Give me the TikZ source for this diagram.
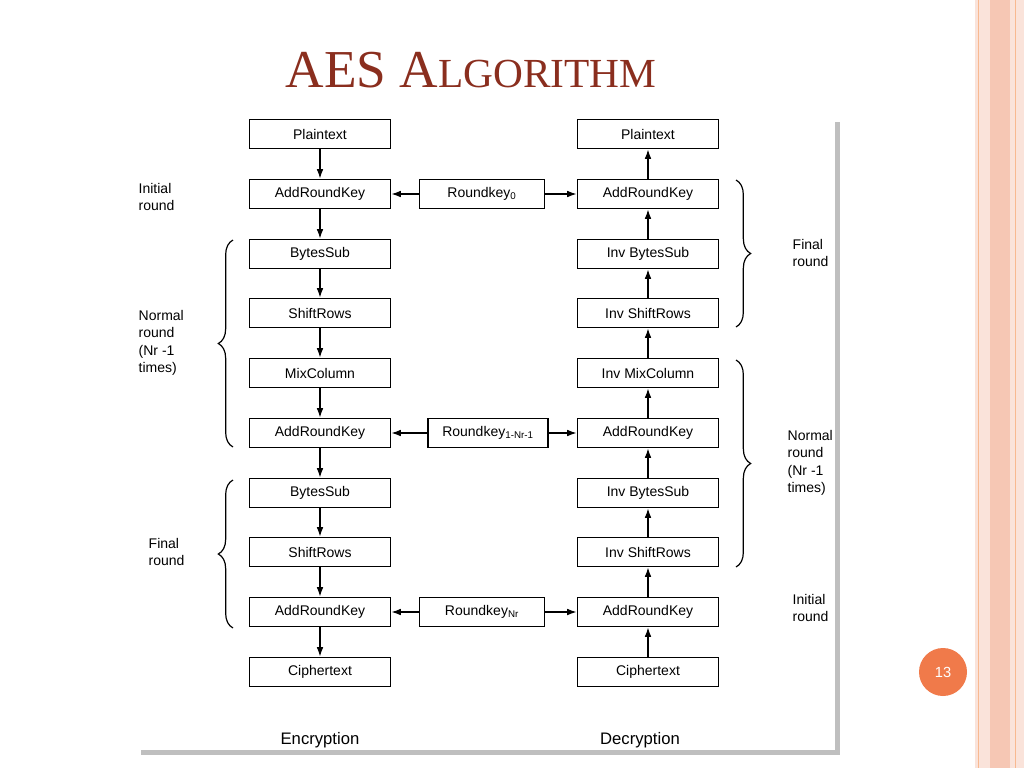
\documentclass[tikz,border=0pt]{standalone}
\usepackage{fontspec}
\setmainfont{Liberation Sans}
\newfontfamily\ser{Liberation Serif}
\usetikzlibrary{decorations.pathreplacing,arrows.meta}
\definecolor{ttl}{HTML}{8A2E1E}
\definecolor{peach}{HTML}{F6C7B4}
\definecolor{orng}{HTML}{F07A4A}
\begin{document}
\begin{tikzpicture}[x=0.75pt,y=-0.75pt,
 box/.style={draw,line width=1.2pt,minimum width=106pt,minimum height=22pt,inner sep=0pt,font=\fontsize{10.5}{12}\selectfont},
 kbox/.style={box,minimum width=94pt},
 lab/.style={font=\fontsize{10.5}{13}\selectfont,align=left,anchor=west},
 ar/.style={-{Latex[length=7pt,width=5pt]},line width=0.9pt},
 br/.style={decorate,decoration={brace,amplitude=11pt},line width=0.9pt}]
\useasboundingbox (0,0) rectangle (1024,768);
\fill[white] (0,0) rectangle (1024,768);
\fill[peach!50] (975,0) rectangle (1024,768);
\fill[peach] (990,0) rectangle (1010,768);
\draw[peach!80!orange,line width=0.6pt] (978,0)--(978,768) (1015,0)--(1015,768);
\node[text=ttl,font=\ser] (title) at (471,70) {\fontsize{40}{44}\selectfont AES A\fontsize{31}{34}\selectfont LGORITHM};
\fill[black!25] (141,122) rectangle (840,755);
\fill[white] (137,118) rectangle (835,750);
\fill[orng] (943,672) circle (24);
\node[text=white,font=\fontsize{11}{13}\selectfont] (num) at (943,672) {13};
% left column
\foreach \n/\t/\y in {l1/Plaintext/134,l2/AddRoundKey/194,l3/BytesSub/254,l4/ShiftRows/313,l5/MixColumn/373,l6/AddRoundKey/433,l7/BytesSub/493,l8/ShiftRows/552,l9/AddRoundKey/612,l10/Ciphertext/672}
  \node[box] (\n) at (320,\y) {\t};
\foreach \n/\t/\y in {r1/Plaintext/134,r2/AddRoundKey/194,r3/Inv BytesSub/254,r4/Inv ShiftRows/313,r5/Inv MixColumn/373,r6/AddRoundKey/433,r7/Inv BytesSub/493,r8/Inv ShiftRows/552,r9/AddRoundKey/612,r10/Ciphertext/672}
  \node[box] (\n) at (648,\y) {\t};
\foreach \a/\b in {1/2,2/3,3/4,4/5,5/6,6/7,7/8,8/9,9/10}{
  \draw[ar] (l\a) -- (l\b);
  \draw[ar] (r\b) -- (r\a);}
\node[kbox] (k0) at (482,194) {Roundkey\textsubscript{0}};
\node[kbox,minimum width=90pt] (k1) at (488,433) {Roundkey\textsubscript{1-Nr-1}};
\node[kbox] (k2) at (482,612) {Roundkey\textsubscript{Nr}};
\foreach \k/\i in {k0/2,k1/6,k2/9}{
  \draw[ar] (\k) -- (l\i);
  \draw[ar] (\k) -- (r\i);}
% braces
\coordinate (b1a) at (233,447); \coordinate (b1b) at (233,240);
\coordinate (b2a) at (233,628); \coordinate (b2b) at (233,480);
\coordinate (b3a) at (736,180); \coordinate (b3b) at (736,327);
\coordinate (b4a) at (736,360); \coordinate (b4b) at (736,567);
\draw[br] (b1a) -- (b1b);
\draw[br] (b2a) -- (b2b);
\draw[br] (b3a) -- (b3b);
\draw[br] (b4a) -- (b4b);
\node[lab] (t1) at (134,197) {Initial\\round};
\node[lab] (t2) at (134,343) {Normal\\round\\(Nr -1\\times)};
\node[lab] (t3) at (144,552) {Final\\round};
\node[lab] (t4) at (788,253) {Final\\round};
\node[lab] (t5) at (783,463) {Normal\\round\\(Nr -1\\times)};
\node[lab] (t6) at (788,608) {Initial\\round};
\node[font=\fontsize{12.5}{14}\selectfont] (enc) at (320,740) {Encryption};
\node[font=\fontsize{12.5}{14}\selectfont] (dec) at (640,740) {Decryption};
\end{tikzpicture}
\end{document}
